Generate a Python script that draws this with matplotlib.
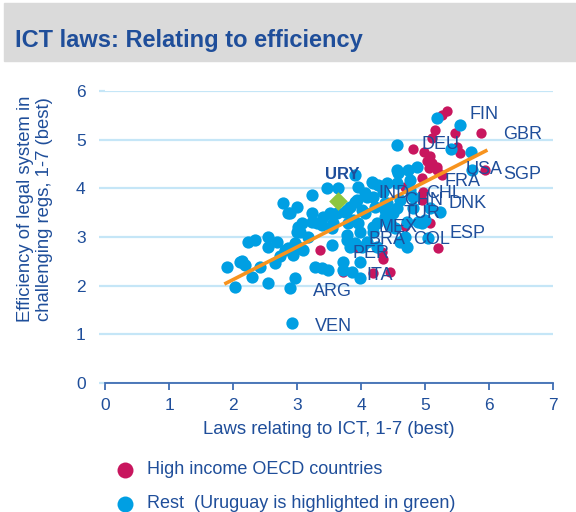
import matplotlib.pyplot as plt
from matplotlib.patches import Rectangle
from matplotlib.lines import Line2D

plt.rcParams['font.family'] = ['Liberation Sans', 'DejaVu Sans']

# Colours
TEXT_BLUE = '#1f4e9a'
REST_BLUE = '#009fe3'
OECD_RED = '#c8165e'
URY_GREEN = '#8dc63f'
TREND_ORANGE = '#f7931e'
GRID_BLUE = '#c5e6f7'

# Rest of the world (x = laws relating to ICT, y = efficiency of legal system)
rest_x = [1.91, 2.03, 2.14, 2.30, 2.42, 2.23, 2.34, 2.55, 2.55, 2.69, 2.55, 2.66, 2.73,
          2.78, 2.89, 3.00, 2.97, 2.89, 2.86, 2.97, 3.02, 3.05, 3.08, 3.23, 3.23, 3.23,
          2.94, 3.09, 3.28, 3.17, 2.81, 3.39, 3.48, 3.55, 3.72, 3.86, 3.98, 3.98, 3.78,
          3.41, 3.52, 3.63, 3.78, 3.88, 3.98, 4.19, 4.45, 4.72, 5.00, 2.92, 3.64, 3.95,
          3.91, 3.75, 3.56, 3.39, 3.95, 3.78, 3.91, 4.09, 4.25, 4.38, 4.45, 4.27, 4.17,
          4.58, 4.73, 4.88, 4.61, 4.25, 4.41, 4.61, 4.81, 4.89, 4.34, 3.91, 4.06, 5.19,
          5.55, 4.56, 5.41, 5.72, 4.56, 4.77, 4.41, 4.19, 4.77, 5.73, 4.19, 4.56, 4.09,
          4.22, 4.38, 4.56, 4.38, 4.50, 4.06, 4.19, 4.53, 4.72, 4.95, 4.81, 5.08, 5.23,
          4.69, 4.02, 5.05, 3.47, 3.31, 3.83, 3.94, 4.02, 3.80, 3.55, 3.02, 3.83, 3.72,
          2.19, 2.11, 2.86, 3.00]
rest_y = [2.38, 1.97, 2.51, 2.18, 2.38, 2.90, 2.94, 3.00, 2.79, 2.90, 2.05, 2.47, 2.61,
          3.70, 3.49, 3.62, 2.16, 1.95, 2.77, 2.88, 3.21, 3.10, 3.29, 3.86, 3.49, 3.31,
          2.63, 2.73, 2.38, 3.00, 2.73, 2.36, 2.32, 2.84, 2.49, 2.28, 2.49, 2.16, 2.94,
          3.41, 3.49, 3.49, 3.55, 3.35, 3.10, 3.10, 3.25, 2.79, 3.35, 1.23, 4.01, 4.03,
          3.72, 3.51, 3.29, 3.25, 3.29, 3.04, 2.88, 2.90, 3.29, 3.55, 3.29, 4.07, 4.13,
          4.31, 4.38, 4.44, 2.90, 2.79, 3.70, 3.76, 3.82, 3.31, 3.92, 4.27, 3.90, 5.44,
          5.30, 4.89, 4.81, 4.75, 4.38, 4.17, 4.11, 3.82, 3.97, 4.38, 4.11, 4.11, 3.82,
          3.62, 3.70, 3.60, 3.41, 3.49, 3.49, 3.21, 3.18, 3.31, 3.29, 3.60, 3.60, 3.51,
          3.00, 2.79, 2.98, 4.01, 3.29, 3.62, 3.76, 3.55, 3.29, 3.18, 2.79, 2.79, 2.32,
          2.42, 2.49, 3.49, 3.10]

# High income OECD countries
oecd_x = [5.34, 5.27, 5.16, 5.47, 5.88, 5.11, 4.81, 4.98, 5.08, 5.03, 5.11, 5.19, 5.06,
          5.27, 5.50, 5.94, 4.95, 4.69, 4.97, 4.95, 5.19, 4.69, 5.08, 5.20, 4.33, 4.34,
          4.45, 4.19, 3.36, 3.72, 3.91, 5.55]
oecd_y = [5.59, 5.51, 5.20, 5.14, 5.14, 5.03, 4.81, 4.75, 4.66, 4.56, 4.52, 4.44, 4.42,
          4.27, 4.85, 4.38, 4.21, 4.03, 3.92, 3.76, 4.38, 3.23, 3.29, 2.77, 2.69, 2.55,
          2.28, 2.26, 2.73, 2.28, 2.79, 4.73]

# Uruguay
ury_x = [3.64]
ury_y = [3.74]

# Trend line end points
trend_x = [1.89, 5.95]
trend_y = [2.05, 4.77]

# Country labels (left edge, baseline)
label_names = ['FIN', 'GBR', 'DEU', 'USA', 'SGP', 'FRA', 'CHL', 'IND', 'CHN', 'DNK',
               'TUR', 'MEX', 'BRA', 'COL', 'ESP', 'PER', 'ITA', 'ARG', 'VEN']
label_x = [5.69, 6.22, 4.95, 5.63, 6.22, 5.31, 5.02, 4.27, 4.67, 5.36,
           4.66, 4.28, 4.11, 4.81, 5.39, 3.86, 4.09, 3.25, 3.28]
label_y = [5.42, 5.01, 4.80, 4.29, 4.20, 4.04, 3.80, 3.80, 3.65, 3.59,
           3.39, 3.10, 2.85, 2.85, 2.97, 2.56, 2.11, 1.78, 1.07]
ury_label = ('URY', 3.44, 4.20)

x_ticks = [0, 1, 2, 3, 4, 5, 6, 7]
y_ticks = [0, 1, 2, 3, 4, 5, 6]

W, H = 576, 512
fig = plt.figure(figsize=(W / 100, H / 100), dpi=100)

# Title band
fig.add_artist(Rectangle((4 / W, 1 - 61 / H), 1 - 4 / W, 58 / H,
                         transform=fig.transFigure, color='#dadada', zorder=0))
fig.text(15 / W, 1 - 47 / H, "ICT laws: Relating to efficiency", fontsize=17,
         fontweight='bold', color=TEXT_BLUE, ha='left', va='baseline')

ax = fig.add_axes([105 / W, 1 - 383 / H, 448 / W, 292 / H])
ax.set_xlim(0, 7)
ax.set_ylim(0, 6)
ax.set_xticks(x_ticks)
ax.set_yticks(y_ticks)
ax.grid(axis='y', color=GRID_BLUE, linewidth=1.6)
ax.set_axisbelow(True)
for side in ['top', 'right', 'left']:
    ax.spines[side].set_visible(False)
ax.spines['bottom'].set_color('#3f6db3')
ax.spines['bottom'].set_linewidth(1.3)
ax.tick_params(axis='x', colors=TEXT_BLUE, labelsize=12.5, length=5, width=1.3,
               color='#3f6db3', pad=6)
ax.tick_params(axis='y', colors=TEXT_BLUE, labelsize=12.5, length=4, width=1.6,
               color=GRID_BLUE, pad=10)

ax.scatter(oecd_x, oecd_y, s=55, color=OECD_RED, linewidths=0, zorder=2)
ax.scatter(rest_x, rest_y, s=78, color=REST_BLUE, linewidths=0, zorder=3)
ax.scatter(ury_x, ury_y, s=90, marker='D', color=URY_GREEN, linewidths=0, zorder=4)
ax.plot(trend_x, trend_y, color=TREND_ORANGE, linewidth=2.6, zorder=5)

for name, lx, ly in zip(label_names, label_x, label_y):
    ax.text(lx, ly, name, fontsize=13, color=TEXT_BLUE, ha='left', va='baseline', zorder=6)
ax.text(ury_label[1], ury_label[2], ury_label[0], fontsize=12, fontweight='bold',
        color=TEXT_BLUE, ha='left', va='baseline', zorder=6)

# Axis titles
fig.text(329 / W, 1 - 430 / H, "Laws relating to ICT, 1-7 (best)", fontsize=13.3,
         color=TEXT_BLUE, ha='center', va='center')
fig.text(35 / W, 1 - 209 / H, "Efficiency of legal system in\nchallenging regs, 1-7 (best)",
         fontsize=13.3, color=TEXT_BLUE, ha='center', va='center', rotation=90,
         multialignment='center', linespacing=1.15)

# Legend
fig.add_artist(Line2D([125 / W], [1 - 470 / H], marker='o', markersize=11.5, color=OECD_RED,
                      markeredgewidth=0, transform=fig.transFigure))
fig.add_artist(Line2D([125 / W], [1 - 504 / H], marker='o', markersize=11.5, color=REST_BLUE,
                      markeredgewidth=0, transform=fig.transFigure))
fig.text(147 / W, 1 - 470 / H, "High income OECD countries", fontsize=13,
         color=TEXT_BLUE, ha='left', va='center')
fig.text(147 / W, 1 - 503 / H, "Rest  (Uruguay is highlighted in green)", fontsize=13,
         color=TEXT_BLUE, ha='left', va='center')

fig.savefig("out.png", dpi=100)
